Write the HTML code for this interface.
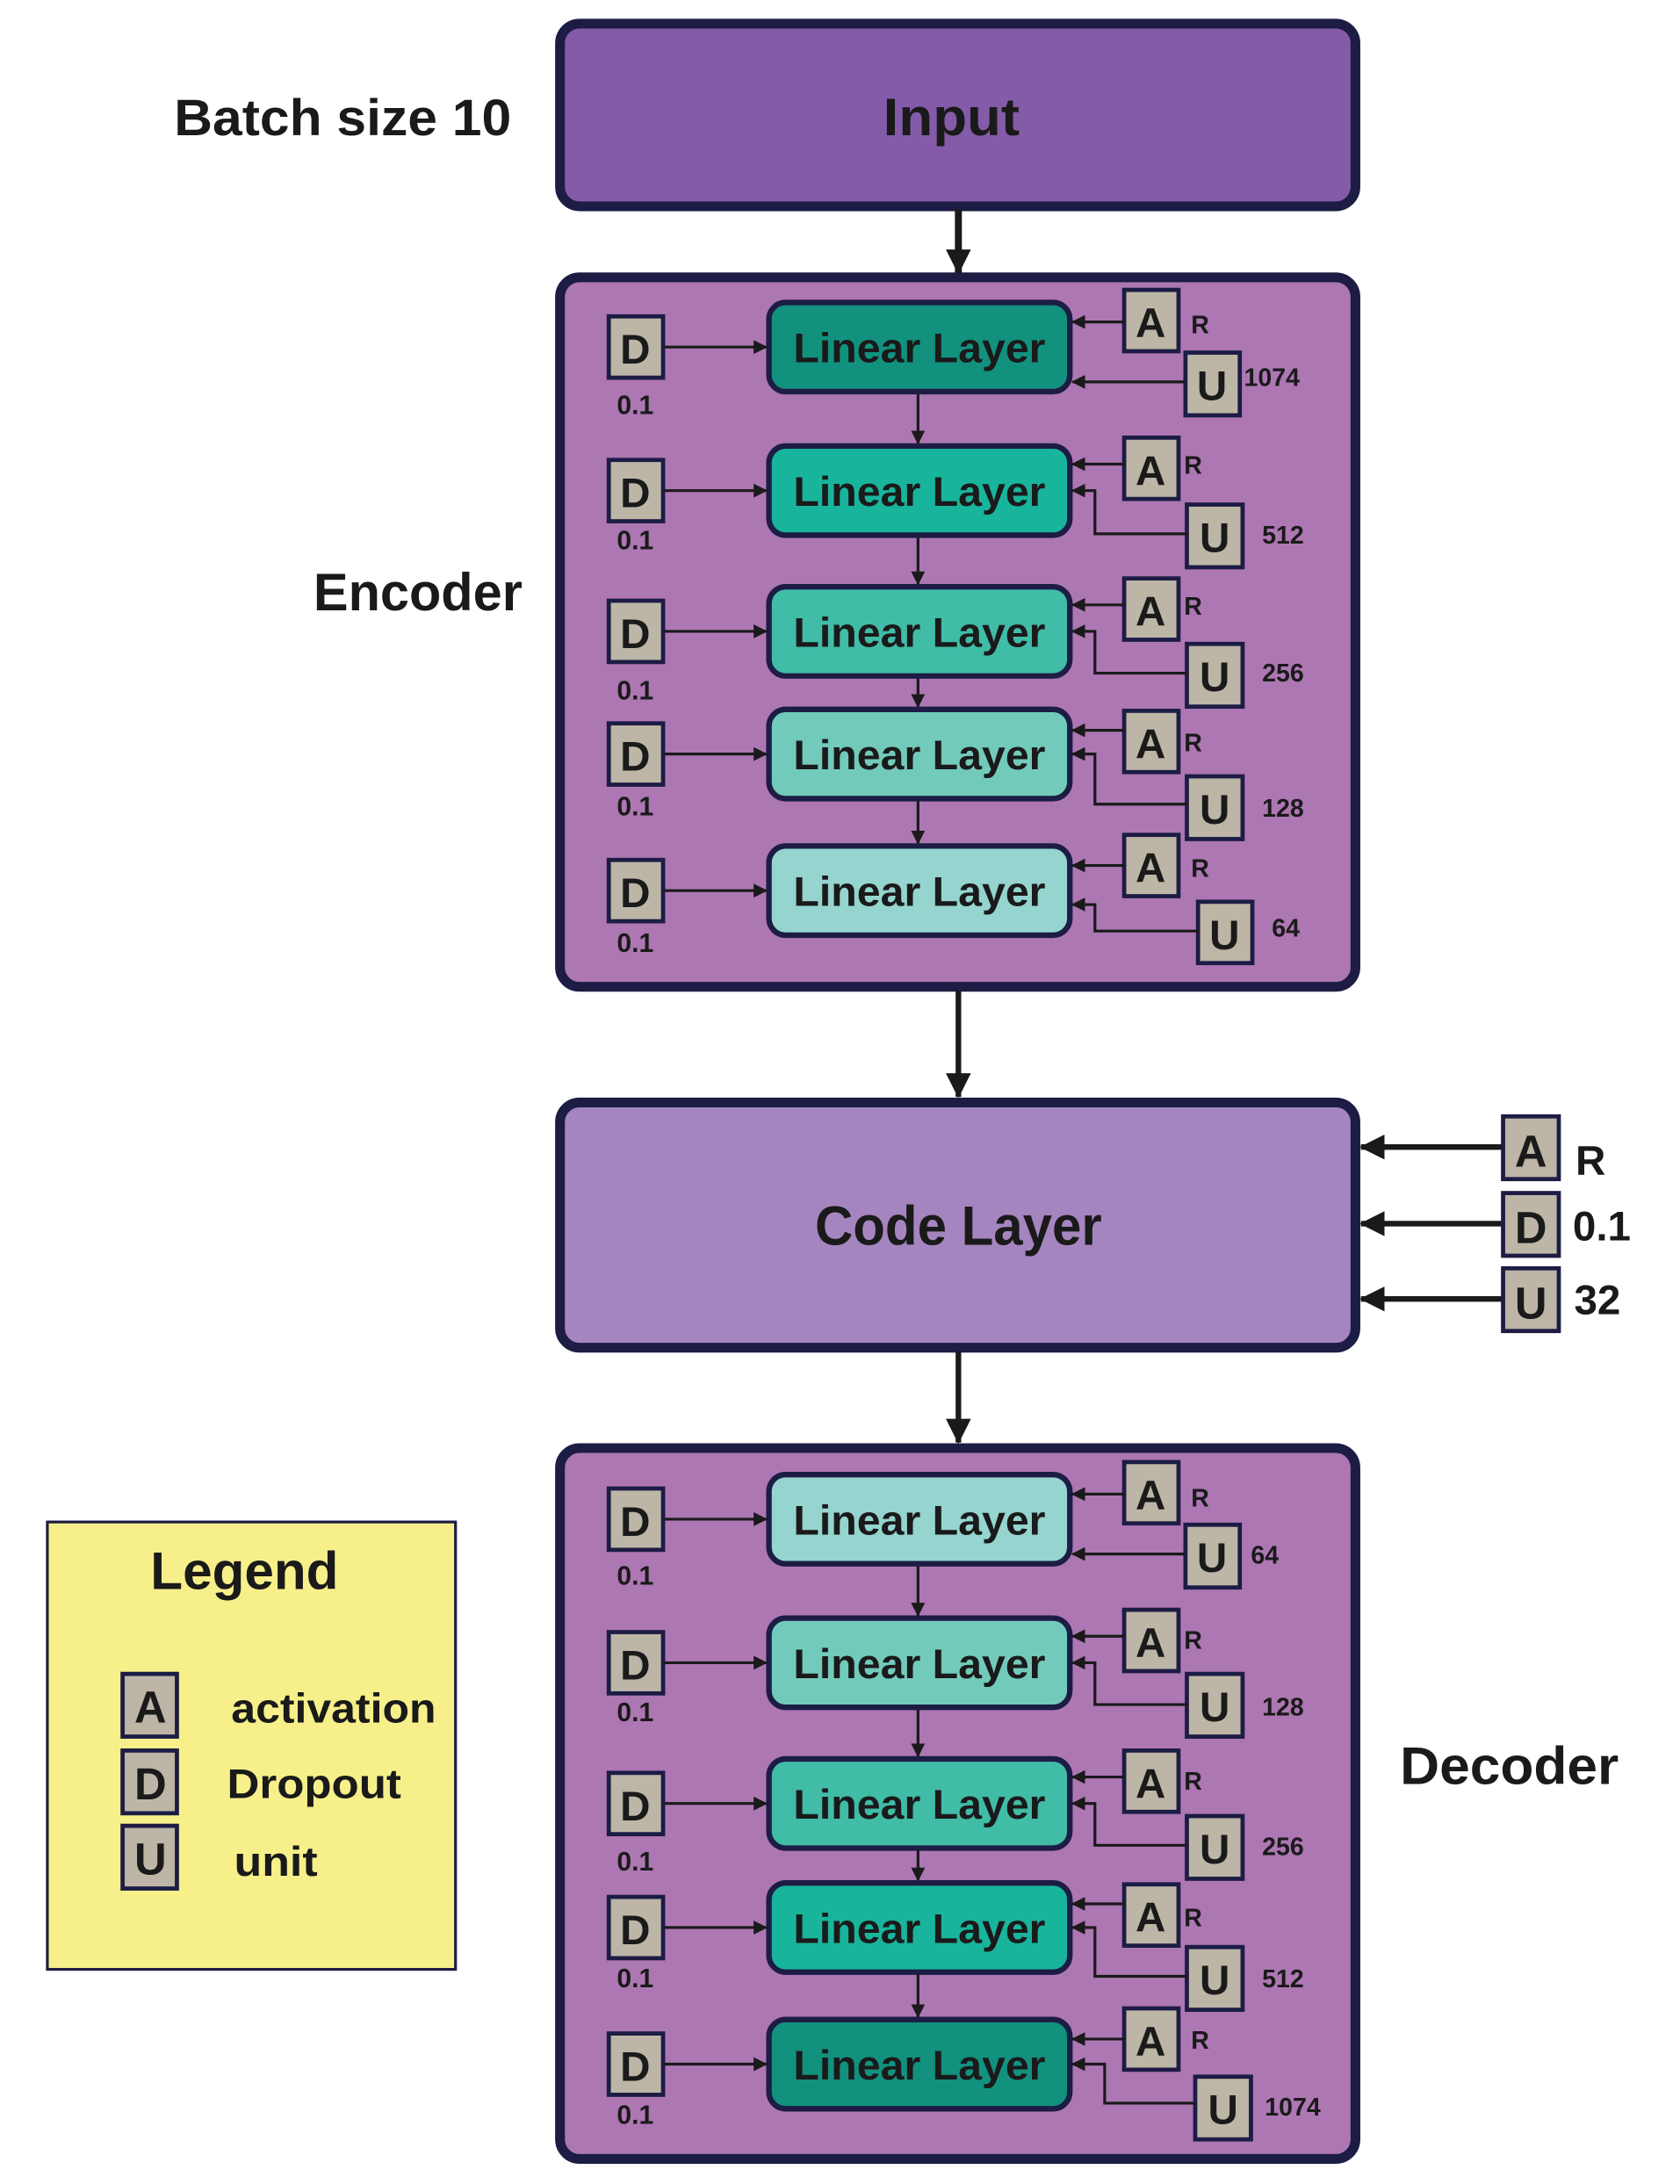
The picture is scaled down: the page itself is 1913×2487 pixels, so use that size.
<!DOCTYPE html>
<html><head><meta charset="utf-8"><style>
html,body{margin:0;padding:0;background:#fff;}
svg{display:block;}
text{font-family:"Liberation Sans",sans-serif;font-weight:bold;fill:#1a1a1a;}
</style></head><body>
<svg width="1913" height="2487" viewBox="0 0 1206 1567" preserveAspectRatio="none" xmlns="http://www.w3.org/2000/svg">
<defs>
<marker id="ah" markerWidth="10" markerHeight="10" refX="9" refY="5" orient="auto" markerUnits="userSpaceOnUse"><path d="M0,0 L10,5 L0,10 z" fill="#1a1a1a"/></marker>
<marker id="ahb" markerWidth="18" markerHeight="18" refX="17" refY="9" orient="auto" markerUnits="userSpaceOnUse"><path d="M0,0 L18,9 L0,18 z" fill="#1a1a1a"/></marker>
</defs>

<text x="125" y="97" font-size="37" textLength="242" lengthAdjust="spacingAndGlyphs">Batch size 10</text>
<rect x="402" y="17" width="571" height="131" rx="14" fill="#845BA8" stroke="#1c1c45" stroke-width="7"/>
<text x="683" y="97" font-size="38" text-anchor="middle" textLength="98" lengthAdjust="spacingAndGlyphs">Input</text>
<line x1="688" y1="150" x2="688" y2="196" stroke="#1a1a1a" stroke-width="5" marker-end="url(#ahb)"/>

<rect x="402" y="199" width="571" height="509" rx="14" fill="#AD77B3" stroke="#1c1c45" stroke-width="7"/>
<text x="225" y="438" font-size="38" textLength="150" lengthAdjust="spacingAndGlyphs">Encoder</text>

<line x1="688" y1="711" x2="688" y2="787" stroke="#1a1a1a" stroke-width="4" marker-end="url(#ahb)"/>
<rect x="402" y="791" width="571" height="176" rx="14" fill="#A585BF" stroke="#1c1c45" stroke-width="7"/>
<text x="688" y="893" font-size="40" text-anchor="middle" textLength="206" lengthAdjust="spacingAndGlyphs">Code Layer</text>

<g stroke="#1a1a1a" stroke-width="4">
<line x1="1078" y1="823" x2="977" y2="823" marker-end="url(#ahb)"/>
<line x1="1078" y1="878" x2="977" y2="878" marker-end="url(#ahb)"/>
<line x1="1078" y1="932" x2="977" y2="932" marker-end="url(#ahb)"/>
</g>
<g fill="#BDB5A6" stroke="#1c1c45" stroke-width="3">
<rect x="1079" y="801" width="40" height="45"/><rect x="1079" y="856" width="40" height="45"/><rect x="1079" y="910" width="40" height="45"/>
</g>
<text x="1099" y="837" font-size="32" text-anchor="middle" font-weight="normal">A</text>
<text x="1099" y="892" font-size="32" text-anchor="middle">D</text>
<text x="1099" y="946" font-size="32" text-anchor="middle">U</text>
<text x="1131" y="843" font-size="30">R</text>
<text x="1129" y="890" font-size="30">0.1</text>
<text x="1130" y="943" font-size="30">32</text>

<line x1="688" y1="970" x2="688" y2="1035" stroke="#1a1a1a" stroke-width="4" marker-end="url(#ahb)"/>
<rect x="402" y="1039" width="571" height="510" rx="14" fill="#AD77B3" stroke="#1c1c45" stroke-width="7"/>
<text x="1005" y="1280" font-size="38" textLength="157" lengthAdjust="spacingAndGlyphs">Decoder</text>

<rect x="34" y="1092" width="293" height="321" fill="#F7F08A" stroke="#1c1c45" stroke-width="2"/>
<text x="108" y="1140" font-size="38" textLength="135" lengthAdjust="spacingAndGlyphs">Legend</text>
<g fill="#BDB5A6" stroke="#1c1c45" stroke-width="3">
<rect x="88" y="1201" width="39" height="45"/><rect x="88" y="1256" width="39" height="45"/><rect x="88" y="1310" width="39" height="45"/>
</g>
<text x="108" y="1236" font-size="32" text-anchor="middle" font-weight="normal">A</text>
<text x="108" y="1291" font-size="32" text-anchor="middle" font-weight="normal">D</text>
<text x="108" y="1345" font-size="32" text-anchor="middle" font-weight="normal">U</text>
<text x="166" y="1236" font-size="30" textLength="147" lengthAdjust="spacingAndGlyphs">activation</text>
<text x="163" y="1290" font-size="30" textLength="125" lengthAdjust="spacingAndGlyphs">Dropout</text>
<text x="168" y="1346" font-size="30" textLength="60" lengthAdjust="spacingAndGlyphs">unit</text>

<g stroke="#1a1a1a" stroke-width="2">
<line x1="659" y1="281" x2="659" y2="318" marker-end="url(#ah)"/>
<line x1="659" y1="384" x2="659" y2="419" marker-end="url(#ah)"/>
<line x1="659" y1="485" x2="659" y2="507" marker-end="url(#ah)"/>
<line x1="659" y1="573" x2="659" y2="605" marker-end="url(#ah)"/>
<line x1="659" y1="1122" x2="659" y2="1159" marker-end="url(#ah)"/>
<line x1="659" y1="1225" x2="659" y2="1260" marker-end="url(#ah)"/>
<line x1="659" y1="1326" x2="659" y2="1349" marker-end="url(#ah)"/>
<line x1="659" y1="1415" x2="659" y2="1447" marker-end="url(#ah)"/>
</g>

<g transform="translate(0,249)">
<rect x="552" y="-32" width="216" height="64" rx="12" fill="#12917F" stroke="#1c1c45" stroke-width="4"/>
<text x="660" y="11" font-size="30" text-anchor="middle" textLength="181" lengthAdjust="spacingAndGlyphs">Linear Layer</text>
<rect x="437" y="-22" width="39" height="44" fill="#BDB5A6" stroke="#1c1c45" stroke-width="3"/><text x="456" y="12" font-size="30" text-anchor="middle">D</text>
<text x="456" y="48" font-size="19" text-anchor="middle">0.1</text>
<line x1="477" y1="0" x2="550" y2="0" stroke="#1a1a1a" stroke-width="2" marker-end="url(#ah)"/>
<rect x="807" y="-41" width="39" height="44" fill="#BDB5A6" stroke="#1c1c45" stroke-width="3"/><text x="826" y="-7" font-size="30" text-anchor="middle">A</text>
<text x="855" y="-10" font-size="18">R</text>
<line x1="807" y1="-18" x2="770" y2="-18" stroke="#1a1a1a" stroke-width="2" marker-end="url(#ah)"/>
<rect x="851" y="4" width="39" height="45" fill="#BDB5A6" stroke="#1c1c45" stroke-width="3"/><text x="870" y="38" font-size="30" text-anchor="middle">U</text>
<line x1="851" y1="25" x2="770" y2="25" stroke="#1a1a1a" stroke-width="2" marker-end="url(#ah)"/>
<text x="893" y="28" font-size="18">1074</text>
</g>
<g transform="translate(0,352)">
<rect x="552" y="-32" width="216" height="64" rx="12" fill="#19B49C" stroke="#1c1c45" stroke-width="4"/>
<text x="660" y="11" font-size="30" text-anchor="middle" textLength="181" lengthAdjust="spacingAndGlyphs">Linear Layer</text>
<rect x="437" y="-22" width="39" height="44" fill="#BDB5A6" stroke="#1c1c45" stroke-width="3"/><text x="456" y="12" font-size="30" text-anchor="middle">D</text>
<text x="456" y="42" font-size="19" text-anchor="middle">0.1</text>
<line x1="477" y1="0" x2="550" y2="0" stroke="#1a1a1a" stroke-width="2" marker-end="url(#ah)"/>
<rect x="807" y="-38" width="39" height="44" fill="#BDB5A6" stroke="#1c1c45" stroke-width="3"/><text x="826" y="-4" font-size="30" text-anchor="middle">A</text>
<text x="850" y="-12" font-size="18">R</text>
<line x1="807" y1="-19" x2="770" y2="-19" stroke="#1a1a1a" stroke-width="2" marker-end="url(#ah)"/>
<rect x="852" y="10" width="40" height="45" fill="#BDB5A6" stroke="#1c1c45" stroke-width="3"/><text x="872" y="44" font-size="30" text-anchor="middle">U</text>
<polyline points="852,31 786,31 786,0 770,0" fill="none" stroke="#1a1a1a" stroke-width="2" marker-end="url(#ah)"/>
<text x="906" y="38" font-size="18">512</text>
</g>
<g transform="translate(0,453)">
<rect x="552" y="-32" width="216" height="64" rx="12" fill="#40BCA7" stroke="#1c1c45" stroke-width="4"/>
<text x="660" y="11" font-size="30" text-anchor="middle" textLength="181" lengthAdjust="spacingAndGlyphs">Linear Layer</text>
<rect x="437" y="-22" width="39" height="44" fill="#BDB5A6" stroke="#1c1c45" stroke-width="3"/><text x="456" y="12" font-size="30" text-anchor="middle">D</text>
<text x="456" y="49" font-size="19" text-anchor="middle">0.1</text>
<line x1="477" y1="0" x2="550" y2="0" stroke="#1a1a1a" stroke-width="2" marker-end="url(#ah)"/>
<rect x="807" y="-38" width="39" height="44" fill="#BDB5A6" stroke="#1c1c45" stroke-width="3"/><text x="826" y="-4" font-size="30" text-anchor="middle">A</text>
<text x="850" y="-12" font-size="18">R</text>
<line x1="807" y1="-19" x2="770" y2="-19" stroke="#1a1a1a" stroke-width="2" marker-end="url(#ah)"/>
<rect x="852" y="9" width="40" height="45" fill="#BDB5A6" stroke="#1c1c45" stroke-width="3"/><text x="872" y="43" font-size="30" text-anchor="middle">U</text>
<polyline points="852,30 786,30 786,0 770,0" fill="none" stroke="#1a1a1a" stroke-width="2" marker-end="url(#ah)"/>
<text x="906" y="36" font-size="18">256</text>
</g>
<g transform="translate(0,541)">
<rect x="552" y="-32" width="216" height="64" rx="12" fill="#72CABB" stroke="#1c1c45" stroke-width="4"/>
<text x="660" y="11" font-size="30" text-anchor="middle" textLength="181" lengthAdjust="spacingAndGlyphs">Linear Layer</text>
<rect x="437" y="-22" width="39" height="44" fill="#BDB5A6" stroke="#1c1c45" stroke-width="3"/><text x="456" y="12" font-size="30" text-anchor="middle">D</text>
<text x="456" y="44" font-size="19" text-anchor="middle">0.1</text>
<line x1="477" y1="0" x2="550" y2="0" stroke="#1a1a1a" stroke-width="2" marker-end="url(#ah)"/>
<rect x="807" y="-31" width="39" height="44" fill="#BDB5A6" stroke="#1c1c45" stroke-width="3"/><text x="826" y="3" font-size="30" text-anchor="middle">A</text>
<text x="850" y="-2" font-size="18">R</text>
<line x1="807" y1="-17" x2="770" y2="-17" stroke="#1a1a1a" stroke-width="2" marker-end="url(#ah)"/>
<rect x="852" y="16" width="40" height="45" fill="#BDB5A6" stroke="#1c1c45" stroke-width="3"/><text x="872" y="50" font-size="30" text-anchor="middle">U</text>
<polyline points="852,36 786,36 786,0 770,0" fill="none" stroke="#1a1a1a" stroke-width="2" marker-end="url(#ah)"/>
<text x="906" y="45" font-size="18">128</text>
</g>
<g transform="translate(0,639)">
<rect x="552" y="-32" width="216" height="64" rx="12" fill="#95D4CF" stroke="#1c1c45" stroke-width="4"/>
<text x="660" y="11" font-size="30" text-anchor="middle" textLength="181" lengthAdjust="spacingAndGlyphs">Linear Layer</text>
<rect x="437" y="-22" width="39" height="44" fill="#BDB5A6" stroke="#1c1c45" stroke-width="3"/><text x="456" y="12" font-size="30" text-anchor="middle">D</text>
<text x="456" y="44" font-size="19" text-anchor="middle">0.1</text>
<line x1="477" y1="0" x2="550" y2="0" stroke="#1a1a1a" stroke-width="2" marker-end="url(#ah)"/>
<rect x="807" y="-40" width="39" height="44" fill="#BDB5A6" stroke="#1c1c45" stroke-width="3"/><text x="826" y="-6" font-size="30" text-anchor="middle">A</text>
<text x="855" y="-10" font-size="18">R</text>
<line x1="807" y1="-18" x2="770" y2="-18" stroke="#1a1a1a" stroke-width="2" marker-end="url(#ah)"/>
<rect x="860" y="8" width="39" height="44" fill="#BDB5A6" stroke="#1c1c45" stroke-width="3"/><text x="879" y="42" font-size="30" text-anchor="middle">U</text>
<polyline points="860,29 786,29 786,10 770,10" fill="none" stroke="#1a1a1a" stroke-width="2" marker-end="url(#ah)"/>
<text x="913" y="33" font-size="18">64</text>
</g>

<g transform="translate(0,1090)">
<rect x="552" y="-32" width="216" height="64" rx="12" fill="#95D4CF" stroke="#1c1c45" stroke-width="4"/>
<text x="660" y="11" font-size="30" text-anchor="middle" textLength="181" lengthAdjust="spacingAndGlyphs">Linear Layer</text>
<rect x="437" y="-22" width="39" height="44" fill="#BDB5A6" stroke="#1c1c45" stroke-width="3"/><text x="456" y="12" font-size="30" text-anchor="middle">D</text>
<text x="456" y="47" font-size="19" text-anchor="middle">0.1</text>
<line x1="477" y1="0" x2="550" y2="0" stroke="#1a1a1a" stroke-width="2" marker-end="url(#ah)"/>
<rect x="807" y="-41" width="39" height="44" fill="#BDB5A6" stroke="#1c1c45" stroke-width="3"/><text x="826" y="-7" font-size="30" text-anchor="middle">A</text>
<text x="855" y="-9" font-size="18">R</text>
<line x1="807" y1="-18" x2="770" y2="-18" stroke="#1a1a1a" stroke-width="2" marker-end="url(#ah)"/>
<rect x="851" y="4" width="39" height="45" fill="#BDB5A6" stroke="#1c1c45" stroke-width="3"/><text x="870" y="38" font-size="30" text-anchor="middle">U</text>
<line x1="851" y1="25" x2="770" y2="25" stroke="#1a1a1a" stroke-width="2" marker-end="url(#ah)"/>
<text x="898" y="32" font-size="18">64</text>
</g>
<g transform="translate(0,1193)">
<rect x="552" y="-32" width="216" height="64" rx="12" fill="#72CABB" stroke="#1c1c45" stroke-width="4"/>
<text x="660" y="11" font-size="30" text-anchor="middle" textLength="181" lengthAdjust="spacingAndGlyphs">Linear Layer</text>
<rect x="437" y="-22" width="39" height="44" fill="#BDB5A6" stroke="#1c1c45" stroke-width="3"/><text x="456" y="12" font-size="30" text-anchor="middle">D</text>
<text x="456" y="42" font-size="19" text-anchor="middle">0.1</text>
<line x1="477" y1="0" x2="550" y2="0" stroke="#1a1a1a" stroke-width="2" marker-end="url(#ah)"/>
<rect x="807" y="-38" width="39" height="44" fill="#BDB5A6" stroke="#1c1c45" stroke-width="3"/><text x="826" y="-4" font-size="30" text-anchor="middle">A</text>
<text x="850" y="-10" font-size="18">R</text>
<line x1="807" y1="-19" x2="770" y2="-19" stroke="#1a1a1a" stroke-width="2" marker-end="url(#ah)"/>
<rect x="852" y="8" width="40" height="45" fill="#BDB5A6" stroke="#1c1c45" stroke-width="3"/><text x="872" y="42" font-size="30" text-anchor="middle">U</text>
<polyline points="852,30 786,30 786,0 770,0" fill="none" stroke="#1a1a1a" stroke-width="2" marker-end="url(#ah)"/>
<text x="906" y="38" font-size="18">128</text>
</g>
<g transform="translate(0,1294)">
<rect x="552" y="-32" width="216" height="64" rx="12" fill="#40BCA7" stroke="#1c1c45" stroke-width="4"/>
<text x="660" y="11" font-size="30" text-anchor="middle" textLength="181" lengthAdjust="spacingAndGlyphs">Linear Layer</text>
<rect x="437" y="-22" width="39" height="44" fill="#BDB5A6" stroke="#1c1c45" stroke-width="3"/><text x="456" y="12" font-size="30" text-anchor="middle">D</text>
<text x="456" y="48" font-size="19" text-anchor="middle">0.1</text>
<line x1="477" y1="0" x2="550" y2="0" stroke="#1a1a1a" stroke-width="2" marker-end="url(#ah)"/>
<rect x="807" y="-38" width="39" height="44" fill="#BDB5A6" stroke="#1c1c45" stroke-width="3"/><text x="826" y="-4" font-size="30" text-anchor="middle">A</text>
<text x="850" y="-10" font-size="18">R</text>
<line x1="807" y1="-19" x2="770" y2="-19" stroke="#1a1a1a" stroke-width="2" marker-end="url(#ah)"/>
<rect x="852" y="9" width="40" height="45" fill="#BDB5A6" stroke="#1c1c45" stroke-width="3"/><text x="872" y="43" font-size="30" text-anchor="middle">U</text>
<polyline points="852,30 786,30 786,0 770,0" fill="none" stroke="#1a1a1a" stroke-width="2" marker-end="url(#ah)"/>
<text x="906" y="37" font-size="18">256</text>
</g>
<g transform="translate(0,1383)">
<rect x="552" y="-32" width="216" height="64" rx="12" fill="#19B49C" stroke="#1c1c45" stroke-width="4"/>
<text x="660" y="11" font-size="30" text-anchor="middle" textLength="181" lengthAdjust="spacingAndGlyphs">Linear Layer</text>
<rect x="437" y="-22" width="39" height="44" fill="#BDB5A6" stroke="#1c1c45" stroke-width="3"/><text x="456" y="12" font-size="30" text-anchor="middle">D</text>
<text x="456" y="43" font-size="19" text-anchor="middle">0.1</text>
<line x1="477" y1="0" x2="550" y2="0" stroke="#1a1a1a" stroke-width="2" marker-end="url(#ah)"/>
<rect x="807" y="-31" width="39" height="44" fill="#BDB5A6" stroke="#1c1c45" stroke-width="3"/><text x="826" y="3" font-size="30" text-anchor="middle">A</text>
<text x="850" y="-1" font-size="18">R</text>
<line x1="807" y1="-17" x2="770" y2="-17" stroke="#1a1a1a" stroke-width="2" marker-end="url(#ah)"/>
<rect x="852" y="14" width="40" height="45" fill="#BDB5A6" stroke="#1c1c45" stroke-width="3"/><text x="872" y="48" font-size="30" text-anchor="middle">U</text>
<polyline points="852,35 786,35 786,0 770,0" fill="none" stroke="#1a1a1a" stroke-width="2" marker-end="url(#ah)"/>
<text x="906" y="43" font-size="18">512</text>
</g>
<g transform="translate(0,1481)">
<rect x="552" y="-32" width="216" height="64" rx="12" fill="#12917F" stroke="#1c1c45" stroke-width="4"/>
<text x="660" y="11" font-size="30" text-anchor="middle" textLength="181" lengthAdjust="spacingAndGlyphs">Linear Layer</text>
<rect x="437" y="-22" width="39" height="44" fill="#BDB5A6" stroke="#1c1c45" stroke-width="3"/><text x="456" y="12" font-size="30" text-anchor="middle">D</text>
<text x="456" y="43" font-size="19" text-anchor="middle">0.1</text>
<line x1="477" y1="0" x2="550" y2="0" stroke="#1a1a1a" stroke-width="2" marker-end="url(#ah)"/>
<rect x="807" y="-40" width="39" height="44" fill="#BDB5A6" stroke="#1c1c45" stroke-width="3"/><text x="826" y="-6" font-size="30" text-anchor="middle">A</text>
<text x="855" y="-11" font-size="18">R</text>
<line x1="807" y1="-18" x2="770" y2="-18" stroke="#1a1a1a" stroke-width="2" marker-end="url(#ah)"/>
<rect x="858" y="9" width="40" height="45" fill="#BDB5A6" stroke="#1c1c45" stroke-width="3"/><text x="878" y="43" font-size="30" text-anchor="middle">U</text>
<polyline points="858,28 793,28 793,0 770,0" fill="none" stroke="#1a1a1a" stroke-width="2" marker-end="url(#ah)"/>
<text x="908" y="37" font-size="18">1074</text>
</g>
</svg>
</body></html>
